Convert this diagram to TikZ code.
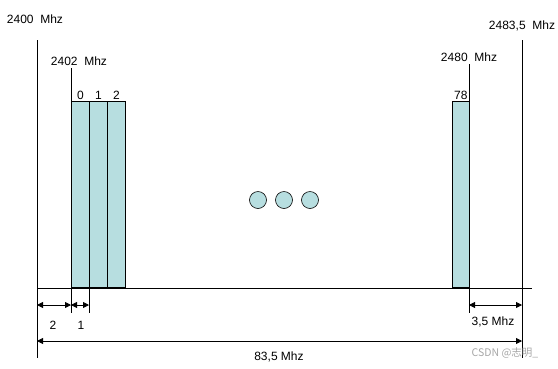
\documentclass[tikz,border=0pt]{standalone}
\usepackage{fontspec}
\setmainfont{Liberation Sans}
\newfontfamily\cjk{Noto Sans CJK SC}
\usetikzlibrary{arrows.meta}
\definecolor{chanfill}{RGB}{183,222,224}

\begin{document}
\begin{tikzpicture}[x=1pt,y=-1pt,line width=0.8pt,>={Triangle[length=6pt,width=6pt]},
    font=\fontsize{12}{14}\selectfont]
    \tikzstyle{channel}=[draw,fill=chanfill,anchor=south west,minimum height=186pt,inner sep=0pt]
    \tikzstyle{dot}=[circle,draw,fill=chanfill,minimum size=17pt,inner sep=0pt,line width=0.6pt]
    \tikzstyle{chlabel}=[inner sep=1.5pt]
    \tikzstyle{freq}=[inner sep=0pt]
    \useasboundingbox (0,0) rectangle (558,368);

    % Frequency marks
    \node[freq] (f-2400) at (35,19) {2400\ \ Mhz};
    \node[freq] (f-2402) at (79,61) {2402\ \ Mhz};
    \node[freq] (f-2480) at (469,57) {2480\ \ Mhz};
    \node[freq] (f-2483) at (522,26) {2483,5\ \ Mhz};
    \coordinate (L-top) at (37,40);
    \coordinate (L-bot) at (37,358);
    \coordinate (R-top) at (522,40);
    \coordinate (R-bot) at (522,358);
    \draw (L-top) -- (L-bot);
    \draw (R-top) -- (R-bot);

    % Channels 0, 1, 2 and 78
    \foreach \name / \x in {0/71,1/89,2/107}
        \node[channel,minimum width=18pt,label={[chlabel]above:\name}] (ch-\name) at (\x,288) {};
    \node[channel,minimum width=17pt,label={[chlabel]above:78}] (ch-78) at (452,288) {};

    % Channel edges going down to the dimension arrows
    \coordinate (a-top) at (71,68);
    \coordinate (a-bot) at (71,313);
    \coordinate (b-bot) at (89,313);
    \coordinate (c-top) at (469,64);
    \coordinate (c-bot) at (469,313);
    \draw (a-top) -- (a-bot);
    \draw (ch-1.south west) -- (b-bot);
    \draw (c-top) -- (c-bot);

    % Base line
    \coordinate (base-l) at (37,288);
    \coordinate (base-r) at (532,288);
    \draw (base-l) -- (base-r);

    % More channels
    \foreach \name / \x in {1/258,2/284,3/310}
        \node[dot] (d-\name) at (\x,200) {};

    % Dimensions
    \coordinate (m-0) at (37,305);
    \coordinate (m-1) at (71,305);
    \coordinate (m-2) at (89,305);
    \coordinate (m-3) at (469,305);
    \coordinate (m-4) at (522,305);
    \coordinate (w-0) at (37,341);
    \coordinate (w-1) at (522,341);
    \draw[<->] (m-0) -- (m-1);
    \draw[<->] (m-1) -- (m-2);
    \draw[<->] (m-3) -- (m-4);
    \draw[<->] (w-0) -- (w-1);
    \node[freq] (gap-l) at (53,325) {2};
    \node[freq] (gap-ch) at (81,325) {1};
    \node[freq] (gap-r) at (493,322) {3,5\ Mhz};
    \node[freq] (width) at (279,357) {83,5\ Mhz};

    \node[freq,text=black!35,font=\cjk\fontsize{10.5}{12}\selectfont] (mark) at (505,353) {CSDN @志明\_};
\end{tikzpicture}
\end{document}
